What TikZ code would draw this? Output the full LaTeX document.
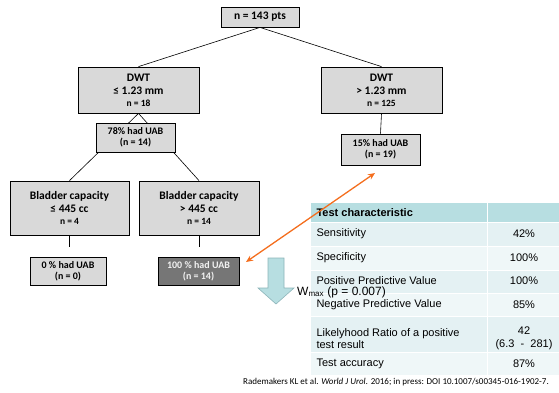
\documentclass[tikz,border=0pt]{standalone}
\usepackage{fontspec}
\setmainfont{Carlito}
\newfontfamily\arialfont{Liberation Sans}
\usepackage{tikz}
\usetikzlibrary{arrows.meta,positioning}
\definecolor{boxgray}{RGB}{217,217,217}
\definecolor{leafdark}{RGB}{118,118,118}
\definecolor{uaborange}{RGB}{244,110,30}
\definecolor{tabhead}{RGB}{183,222,225}
\definecolor{rowdark}{RGB}{228,241,243}
\definecolor{rowlight}{RGB}{239,247,248}
\definecolor{downblue}{RGB}{183,222,225}
\definecolor{downedge}{RGB}{140,180,185}

\begin{document}
\begin{tikzpicture}[x=1pt, y=-1pt,
  treebox/.style={draw, fill=boxgray, line width=0.8pt, align=center, inner sep=1pt, font=\bfseries\fontsize{11.5}{13}\selectfont},
  uabbox/.style={draw, fill=boxgray, line width=0.8pt, align=center, inner sep=1pt, font=\bfseries\fontsize{10}{11}\selectfont},
  small/.style={font=\bfseries\fontsize{9.5}{11}\selectfont},
  link/.style={line width=0.6pt},
  cell/.style={anchor=west, font=\arialfont\fontsize{11}{12.5}\selectfont, align=left},
  val/.style={font=\arialfont\fontsize{11}{12.5}\selectfont, align=center},
  arr/.style={{Stealth[length=7pt,width=6pt]}-{Stealth[length=7pt,width=6pt]}, line width=1.3pt, uaborange}
]
\useasboundingbox (0,0) rectangle (559,392);

% tree
\node[treebox, minimum width=78pt, minimum height=20pt] (root) at (260,17) {n = 143 pts};
\node[treebox, minimum width=121pt, minimum height=46pt] (dwtL) at (138.5,90) {DWT\\≤ 1.23 mm\\[-1pt]{\fontsize{9.5}{11}\selectfont n = 18}};
\node[treebox, minimum width=121pt, minimum height=46pt] (dwtR) at (381.5,90) {DWT\\> 1.23 mm\\[-1pt]{\fontsize{9.5}{11}\selectfont n = 125}};
\node[treebox, minimum width=119pt, minimum height=54pt] (bladL) at (69.5,208) {Bladder capacity\\≤ 445 cc\\[-1pt]{\fontsize{9.5}{11}\selectfont n = 4}};
\node[treebox, minimum width=120pt, minimum height=54pt] (bladR) at (199,208) {Bladder capacity\\> 445 cc\\[-1pt]{\fontsize{9.5}{11}\selectfont n = 14}};

\draw[link] (root.south) -- (dwtL.north);
\draw[link] (root.south) -- (dwtR.north);
\draw[link] (dwtL.south) -- (bladL.north);
\draw[link] (dwtL.south) -- (bladR.north);

\node[uabbox, minimum width=79pt, minimum height=29pt] (uab78) at (135.5,137.5) {78\% had UAB\\(n = 14)};
\node[uabbox, minimum width=79pt, minimum height=31pt] (uab15) at (380.5,149.5) {15\% had UAB\\(n = 19)};
\draw[link] (dwtR.south) -- (uab15.north);

\node[uabbox, minimum width=76pt, minimum height=28pt] (leafL) at (68,271) {0 \% had UAB\\(n = 0)};
\node[uabbox, fill=leafdark, text=white!95!black, minimum width=81pt, minimum height=28pt] (leafR) at (198.5,271) {100 \% had UAB\\(n = 14)};

\coordinate (stubL) at (69.5,247);
\coordinate (stubR) at (199,247);
\draw[link] (bladL.south) -- (stubL);
\draw[link] (bladR.south) -- (stubR);

% table
\fill[tabhead] (311,203) rectangle (559,222);
\fill[rowdark] (311,223) rectangle (559,246);
\fill[rowlight] (311,247) rectangle (559,270);
\fill[rowdark] (311,271) rectangle (559,293);
\fill[rowlight] (311,294) rectangle (559,316);
\fill[rowdark] (311,317) rectangle (559,352);
\fill[rowlight] (311,353) rectangle (559,375);
\draw[white, line width=1pt] (487,203) -- (487,375);

\node[cell, font=\arialfont\bfseries\fontsize{11}{12.5}\selectfont] (hd) at (313,212.5) {Test characteristic};
\node[cell] (sens) at (313,234) {Sensitivity};
\node[cell] (spec) at (313,258) {Specificity};
\node[cell] (ppv) at (313,281) {Positive Predictive Value};
\node[cell] (npv) at (313,305) {Negative Predictive Value};
\node[cell] (lr) at (313,338.5) {Likelyhood Ratio of a positive\\test result};
\node[cell] (acc) at (313,364) {Test accuracy};
\node[val] (vsens) at (524,234) {42\%};
\node[val] (vspec) at (524,258) {100\%};
\node[val] (vppv) at (524,281) {100\%};
\node[val] (vnpv) at (524,305) {85\%};
\node[val] (vlr) at (524,338.5) {42\\(6.3\ \ -\ \ 281)};
\node[val] (vacc) at (524,364) {87\%};

% down arrow and W max
\draw[downedge, fill=downblue, line width=0.6pt] (268,258) -- (284,258) -- (284,288) -- (294,288) -- (276,304) -- (258,288) -- (268,288) -- cycle;
\node[anchor=west, inner sep=0pt, font=\arialfont\fontsize{12}{14}\selectfont] (wmax) at (297,292) {W\textsubscript{max} (p = 0.007)};

% orange link
\coordinate (oa) at (375,173);
\coordinate (ob) at (246,262);
\draw[arr] (oa) -- (ob);

\node[anchor=east, inner sep=0pt, font=\fontsize{9}{10}\selectfont] (cite) at (549,382) {Rademakers KL et al. \textit{World J Urol.} 2016; in press: DOI 10.1007/s00345-016-1902-7.};
\end{tikzpicture}
\end{document}
